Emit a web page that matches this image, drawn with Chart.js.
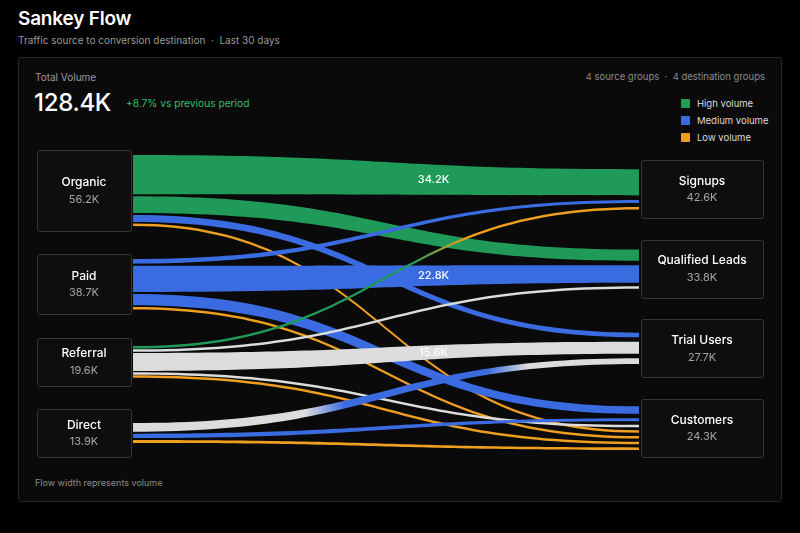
<!DOCTYPE html>
<html>
<head>
<meta charset="utf-8">
<title>Sankey Flow</title>
<script src="https://cdn.jsdelivr.net/npm/chart.js@4.4.0/dist/chart.umd.min.js"></script>
<style>
  html, body { margin: 0; padding: 0; background: #000; }
  body { width: 800px; height: 533px; position: relative; overflow: hidden; font-family: Inter, "Noto Sans", sans-serif; color: #fff; }
  .title { position: absolute; left: 18px; top: 7px; font-size: 19px; font-weight: 600; letter-spacing: -0.2px; }
  .subtitle { position: absolute; left: 18px; top: 34px; font-size: 10px; color: #9a9a9a; }
  .card { position: absolute; left: 18px; top: 57px; width: 762px; height: 443px; border: 1px solid #262626; background: #0a0a0a; border-radius: 3px; }
  .kpi-label { position: absolute; left: 35px; top: 71px; font-size: 10px; color: #9a9a9a; }
  .kpi { position: absolute; left: 34px; top: 88px; font-size: 24px; font-weight: 500; letter-spacing: -0.3px; }
  .delta { position: absolute; left: 126px; top: 97px; font-size: 10.2px; color: #2fbf6c; }
  .meta { position: absolute; right: 35px; top: 71px; font-size: 9.5px; color: #8c8c8c; }
  .legend { position: absolute; left: 681px; top: 95px; font-size: 9.5px; color: #dcdcdc; }
  .legend div { height: 17px; display: flex; align-items: center; }
  .legend span { display: inline-block; width: 9px; height: 9px; border-radius: 1px; margin-right: 7px; }
  .foot { position: absolute; left: 35px; top: 477px; font-size: 9px; color: #8c8c8c; }
  #wrap { position: absolute; left: 0; top: 0; width: 800px; height: 533px; }
</style>
</head>
<body>
<div class="title">Sankey Flow</div>
<div class="subtitle">Traffic source to conversion destination &nbsp;·&nbsp; Last 30 days</div>
<div class="card"></div>
<div class="kpi-label">Total Volume</div>
<div class="kpi">128.4K</div>
<div class="delta">+8.7% vs previous period</div>
<div class="meta">4 source groups &nbsp;·&nbsp; 4 destination groups</div>
<div class="legend">
  <div><span style="background:#1f9d57"></span>High volume</div>
  <div><span style="background:#3a6be0"></span>Medium volume</div>
  <div><span style="background:#ec9c1e"></span>Low volume</div>
</div>
<div class="foot">Flow width represents volume</div>
<div id="wrap"><canvas id="sankey"></canvas></div>

<script>
// data
const sourceNames = ['Organic', 'Paid', 'Referral', 'Direct'];
const sourceTotals = ['56.2K', '38.7K', '19.6K', '13.9K'];
const targetNames = ['Signups', 'Qualified Leads', 'Trial Users', 'Customers'];
const targetTotals = ['42.6K', '33.8K', '27.7K', '24.3K'];

// one entry per flow (K visits)
const flowFrom  = [0, 0, 0, 0,   1, 1, 1, 1,   2, 2, 2, 2, 2,   3, 3, 3];
const flowTo    = [0, 1, 2, 3,   0, 1, 3, 3,   0, 1, 2, 3, 3,   2, 3, 3];
const flowValue = [34.2, 14.5, 6.0, 1.5,   4.2, 22.8, 9.8, 1.9,   1.6, 0.6, 15.6, 0.9, 0.9,   7.6, 3.8, 2.5];
const flowColor = ['g', 'g', 'b', 'o',   'b', 'b', 'b', 'o',   'go', 'w', 'w', 'w', 'o',   'wbw', 'b', 'o'];

// styles
const palette = { g: '#1f9a58', b: '#3a6be0', o: '#ef9f1f', w: '#dcdcdc' };
const gradients = {
  go: [[0, 'g'], [0.55, 'g'], [0.66, 'o'], [1, 'o']],
  wbw: [[0, 'w'], [0.34, 'w'], [0.42, 'b'], [0.7, 'b'], [0.78, 'w'], [1, 'w']]
};
const endRank = { g: 0, b: 1, w: 2, o: 3 };
const MIN_FLOW = 2.5;

function pxToUnits(scale, px) {
  return px * (scale.max - scale.min) / Math.abs(scale.getPixelForValue(scale.max) - scale.getPixelForValue(scale.min));
}

// stacks nodes down a column, boxes spread evenly
function layoutColumn(scale, nodeFlows, o) {
  const gap = pxToUnits(scale, o.gap);
  const p = pxToUnits(scale, o.pad);
  const mb = pxToUnits(scale, o.minBox);
  const start = scale.min + pxToUnits(scale, o.inset);
  const stacks = nodeFlows.map(list => list.reduce((s, i) => s + flowValue[i], 0) + gap * Math.max(0, list.length - 1));
  const boxes = stacks.map(s => Math.max(s + 2 * p, mb));
  const space = (scale.max - start - boxes.reduce((a, b) => a + b, 0)) / (boxes.length - 1);
  let cur = start;
  const pos = {};
  const nodes = boxes.map((b, n) => {
    let y = cur + (b - stacks[n]) / 2;
    nodeFlows[n].forEach(i => {
      pos[i] = [y, y + flowValue[i]];
      y += flowValue[i] + gap;
    });
    const node = { top: cur, bottom: cur + b };
    cur += b + space;
    return node;
  });
  return { nodes, pos };
}

function fillStyleFor(ctx, key, x0, x1) {
  if (palette[key]) return palette[key];
  const g = ctx.createLinearGradient(x0, 0, x1, 0);
  gradients[key].forEach(s => g.addColorStop(s[0], palette[s[1]]));
  return g;
}

function widen(a, b) {
  if (b - a >= MIN_FLOW) return [a, b];
  const m = (a + b) / 2;
  return [m - MIN_FLOW / 2, m + MIN_FLOW / 2];
}

function drawBox(ctx, x0, x1, y0, y1, name, total) {
  ctx.beginPath();
  ctx.roundRect(x0 + 0.5, Math.round(y0) + 0.5, x1 - x0, Math.round(y1 - y0), 2);
  ctx.fillStyle = '#0e0e0e';
  ctx.fill();
  ctx.strokeStyle = '#363636';
  ctx.lineWidth = 1;
  ctx.stroke();
  const cx = (x0 + x1) / 2, cy = (y0 + y1) / 2;
  ctx.textAlign = 'center';
  ctx.textBaseline = 'middle';
  ctx.fillStyle = '#ffffff';
  ctx.font = '500 12px Inter, "Noto Sans", sans-serif';
  ctx.fillText(name, cx, cy - 8);
  ctx.fillStyle = '#a6a6a6';
  ctx.font = '11px Inter, "Noto Sans", sans-serif';
  ctx.fillText(total, cx, cy + 9);
}

const sankeyPlugin = {
  id: 'sankey',
  afterDatasetsDraw(chart) {
    const ctx = chart.ctx;
    const xs = chart.scales.x, yL = chart.scales.y, yR = chart.scales.y2;
    const x0 = xs.getPixelForValue(0), x1 = xs.getPixelForValue(1);

    const outFlows = sourceNames.map((_, n) => flowValue.map((v, i) => i).filter(i => flowFrom[i] === n));
    const inFlows = targetNames.map((_, n) => flowValue.map((v, i) => i).filter(i => flowTo[i] === n)
      .sort((a, b) => (endRank[flowColor[a].slice(-1)] - endRank[flowColor[b].slice(-1)]) || (flowFrom[a] - flowFrom[b])));

    const left = layoutColumn(yL, outFlows, { gap: 2, pad: 5, minBox: 48, inset: 0 });
    const right = layoutColumn(yR, inFlows, { gap: 4.5, pad: 5, minBox: 58, inset: 10 });

    ctx.save();
    flowValue.forEach((v, i) => {
      const [a0, a1] = widen(yL.getPixelForValue(left.pos[i][0]), yL.getPixelForValue(left.pos[i][1]));
      const [b0, b1] = widen(yR.getPixelForValue(right.pos[i][0]), yR.getPixelForValue(right.pos[i][1]));
      const mx = (x0 + x1) / 2;
      ctx.beginPath();
      ctx.moveTo(x0, a0);
      ctx.bezierCurveTo(mx, a0, mx, b0, x1, b0);
      ctx.lineTo(x1, b1);
      ctx.bezierCurveTo(mx, b1, mx, a1, x0, a1);
      ctx.closePath();
      ctx.fillStyle = fillStyleFor(ctx, flowColor[i], x0, x1);
      ctx.fill();
    });

    // value labels on the big flows
    ctx.font = '500 11px Inter, "Noto Sans", sans-serif';
    ctx.textAlign = 'center';
    ctx.textBaseline = 'middle';
    ctx.fillStyle = '#ffffff';
    const t = 0.62, k = 3 * t * t - 2 * t * t * t;
    flowValue.forEach((v, i) => {
      if (v < 15) return;
      const ca = (yL.getPixelForValue(left.pos[i][0]) + yL.getPixelForValue(left.pos[i][1])) / 2;
      const cb = (yR.getPixelForValue(right.pos[i][0]) + yR.getPixelForValue(right.pos[i][1])) / 2;
      ctx.fillText(v.toFixed(1) + 'K', x0 + 0.594 * (x1 - x0), ca + (cb - ca) * k);
    });

    left.nodes.forEach((n, i) => drawBox(ctx, x0 - 96, x0 - 2, yL.getPixelForValue(n.top), yL.getPixelForValue(n.bottom), sourceNames[i], sourceTotals[i]));
    right.nodes.forEach((n, i) => drawBox(ctx, x1 + 2, x1 + 124, yR.getPixelForValue(n.top), yR.getPixelForValue(n.bottom), targetNames[i], targetTotals[i]));
    ctx.restore();
  }
};

new Chart(document.getElementById('sankey'), {
  type: 'scatter',
  data: { datasets: [{ data: [] }] },
  options: {
    responsive: true,
    maintainAspectRatio: false,
    animation: false,
    layout: { padding: { left: 133, right: 161, top: 150, bottom: 76 } },
    plugins: { legend: { display: false }, tooltip: { enabled: false } },
    scales: {
      x: { type: 'linear', min: 0, max: 1, display: false },
      y: { type: 'linear', min: 0, max: 267, reverse: true, display: false },
      y2: { type: 'linear', axis: 'y', position: 'right', min: 0, max: 400, reverse: true, display: false }
    }
  },
  plugins: [sankeyPlugin]
});
</script>
</body>
</html>
